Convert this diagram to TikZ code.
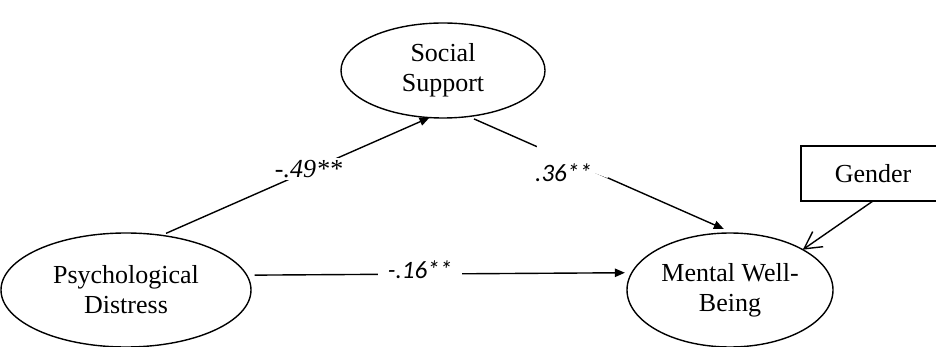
\documentclass[tikz,border=0pt]{standalone}
\usepackage{fontspec}
\setmainfont{Liberation Serif}
\newfontfamily\tnr{Liberation Serif}
\newfontfamily\calib{Carlito}
\usetikzlibrary{shapes.geometric,arrows.meta}
\begin{document}
\begin{tikzpicture}[x=0.5pt,y=-0.5pt,
  every node/.style={font=\tnr\fontsize{13}{15}\selectfont},
  var/.style={draw, line width=0.7pt, ellipse, inner sep=0pt, outer sep=0pt, align=center},
  box/.style={draw, line width=0.7pt, rectangle, inner sep=0pt, outer sep=0pt},
  arr/.style={line width=0.7pt, -{Triangle[length=5pt,width=4.2pt]}},
  barb/.style={line width=0.7pt, -{Straight Barb[length=8.5pt,width=9.2pt]}},
  lbl/.style={fill=white, inner sep=1pt, font=\tnr\fontsize{13}{15}\selectfont\itshape},
  clbl/.style={fill=white, inner sep=1pt, font=\calib\fontsize{12.5}{15}\selectfont\itshape},
  gapnode/.style={fill=white, inner sep=0pt, minimum height=4pt, minimum width=38.5pt}]
\clip (0,0) rectangle (936,347);
\node[var, minimum width=102pt, minimum height=47.5pt] (ss) at (443,70.5) {Social\\Support};
\node[var, minimum width=125pt, minimum height=57pt] (ps) at (126,290) {Psychological\\Distress};
\node[var, minimum width=103pt, minimum height=57pt] (mw) at (730,290) {Mental Well-\\Being};
\node[box, minimum width=72pt, minimum height=27.5pt] (g) at (873,173.5) {Gender};
\draw[arr, shorten <=2.5pt] (ps.57.5) -- (ss.254.7);
\draw[arr, shorten <=3pt, shorten >=5pt] (ss.-61) -- (mw.87.4);
\draw[arr, shorten <=4pt, shorten >=3.5pt] (ps.7.6) -- (mw.170.8);
\draw[barb] (g.south) -- (mw.29.6);
\node[lbl] (l1) at (308.5,169) {-.49**};
\node[gapnode, rotate=-21] (gp) at (573,160.5) {};
\node[clbl] (l2) at (563.5,173) {.36**};
\node[clbl, inner xsep=5pt] (l3) at (420,270) {-.16**};
\end{tikzpicture}
\end{document}
